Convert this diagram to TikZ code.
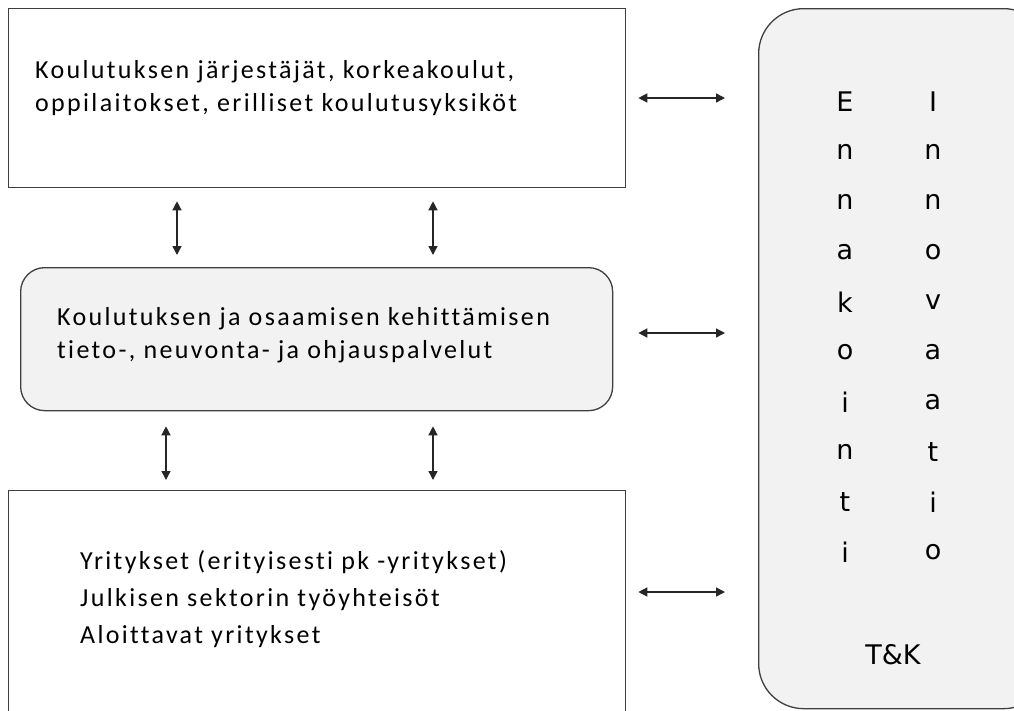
\documentclass[tikz,border=0pt]{standalone}
\usepackage{fontspec}
\setmainfont{Carlito}[LetterSpace=9,Ligatures=NoCommon]
\newfontfamily\vfont{DejaVu Sans}
\usetikzlibrary{arrows.meta}
\definecolor{boxgray}{HTML}{F2F2F2}
\definecolor{edgegray}{HTML}{3F3F3F}
\tikzset{
  plainbox/.style={draw=edgegray, line width=1.3pt, fill=white},
  softbox/.style={draw=edgegray, line width=1.3pt, fill=boxgray},
  arr/.style={line width=1.4pt, draw=black!85, {Triangle[length=9pt,width=9pt]}-{Triangle[length=9pt,width=9pt]}},
  lbl/.style={font=\fontsize{26}{32.5}\selectfont, align=left, anchor=west, inner sep=0pt},
  vl/.style={font=\vfont\fontsize{27}{27}\selectfont, inner sep=0pt}
}
\begin{document}
\begin{tikzpicture}[x=1pt,y=-1pt]
\useasboundingbox (0,0) rectangle (1014,710);
\clip (0,0) rectangle (1014,710);
% boxes
\node[plainbox, minimum width=617pt, minimum height=179pt, anchor=north west, inner sep=0pt] (top) at (8,8) {};
\node[softbox, rounded corners=24pt, minimum width=592pt, minimum height=143pt, anchor=north west, inner sep=0pt] (mid) at (20,267) {};
\node[plainbox, minimum width=617pt, minimum height=240pt, anchor=north west, inner sep=0pt] (bot) at (8,490) {};
\node[softbox, rounded corners=45pt, minimum width=290pt, minimum height=700pt, anchor=north west, inner sep=0pt] (rt) at (758,8) {};
% texts
\node[lbl] (t1) at (35,88) {Koulutuksen järjestäjät, korkeakoulut,\\oppilaitokset, erilliset koulutusyksiköt};
\node[lbl] (t2) at (57,335) {Koulutuksen ja osaamisen kehittämisen\\tieto-, neuvonta- ja ohjauspalvelut};
\node[lbl, font=\fontsize{26}{37}\selectfont] (t3) at (80,599) {Yritykset (erityisesti pk -yritykset)\\Julkisen sektorin työyhteisöt\\Aloittavat yritykset};
% vertical letters
\foreach \c [count=\i from 0] in {E,n,n,a,k,o,i,n,t,i}{
  \node[vl] (e\i) at (845,{102+50*\i}) {\c};
}
\foreach \c [count=\i from 0] in {I,n,n,o,v,a,a,t,i,o}{
  \node[vl] (v\i) at (933,{102+50*\i}) {\c};
}
\node[vl] (tk) at (893,655) {T\&K};
% coordinates for arrow columns
\coordinate (ca) at (177,0);
\coordinate (cb) at (433,0);
\coordinate (cc) at (166,0);
% vertical arrows
\draw[arr, shorten <=13pt, shorten >=12pt] (top.south -| ca) -- (mid.north -| ca);
\draw[arr, shorten <=13pt, shorten >=12pt] (top.south -| cb) -- (mid.north -| cb);
\draw[arr, shorten <=15pt, shorten >=10pt] (mid.south -| cc) -- (bot.north -| cc);
\draw[arr, shorten <=15pt, shorten >=10pt] (mid.south -| cb) -- (bot.north -| cb);
% horizontal arrows
\coordinate (h1) at (0,98);
\coordinate (h2) at (0,333);
\coordinate (h3) at (0,592);
\draw[arr, shorten <=12pt, shorten >=33pt] (top.east |- h1) -- (rt.west |- h1);
\draw[arr, shorten <=25pt, shorten >=33pt] (mid.east |- h2) -- (rt.west |- h2);
\draw[arr, shorten <=12pt, shorten >=33pt] (bot.east |- h3) -- (rt.west |- h3);
\end{tikzpicture}
\end{document}
